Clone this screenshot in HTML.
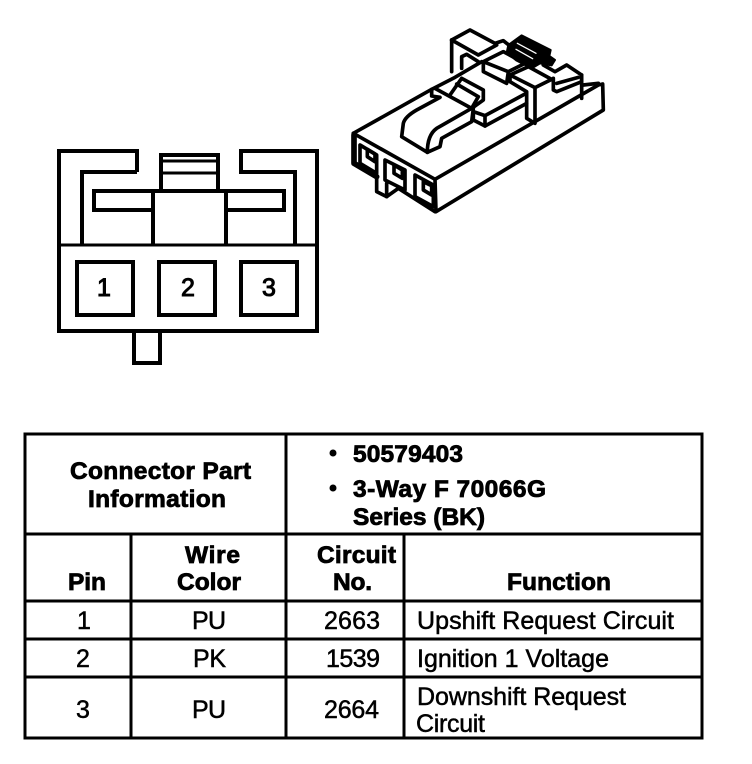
<!DOCTYPE html>
<html>
<head>
<meta charset="utf-8">
<style>
html,body{margin:0;padding:0;background:#fff;width:752px;height:764px;overflow:hidden}
svg{display:block}
text{font-family:"Liberation Sans",Arial,sans-serif;font-size:25px;fill:#000;stroke:#000;stroke-width:.5px}
.b{font-weight:bold;font-size:24.5px;stroke-width:.8px}
.n{stroke-width:1px}
</style>
</head>
<body>
<svg width="752" height="764" viewBox="0 0 752 764" xmlns="http://www.w3.org/2000/svg">
<rect width="752" height="764" fill="#fff"/>

<!-- Isometric connector -->
<g transform="translate(340,20) scale(.33333)" fill="none" stroke="#000" stroke-width="11" stroke-linejoin="round" stroke-linecap="round">
  <path d="M40 340L285 478L775 195L788 192L790 270L288 575L285 478"/>
  <path stroke-width="17" d="M42 345V430L110 470"/>
  <path d="M40 340L275 208"/>
  <path d="M110 470V515L140 530L175 505L285 575"/>
  <path d="M140 490V530"/>
  <path d="M60 375V430L110 460V405Z"/>
  <path d="M82 388V410L105 425V402Z"/>
  <path d="M135 420V480L195 510V450Z"/>
  <path d="M162 435V460L187 475V450Z"/>
  <path d="M225 465V530L280 560V495Z"/>
  <path d="M250 485V510L275 525V497Z"/>
  <!-- latch -->
  <path d="M395 265L290 325Q262 345 262 397L185 350L190 310Q195 290 230 270L300 232L275 228V208L345 172L425 125"/>
  <path d="M262 397L300 380L305 355L395 305L400 265"/>
  <path d="M285 205L395 265L430 240V210L365 175L330 225"/>
  <path d="M350 192L415 230L395 265"/>
  <!-- step -->
  <path d="M400 275V300L435 318L560 250"/>
  <path d="M400 275L435 287L555 222"/>
  <path d="M435 287V318"/>
  <!-- rear block -->
  <path d="M335 60L390 30L465 70L490 62L515 82"/>
  <path d="M335 60V155"/>
  <path d="M335 60L415 105L470 75"/>
  <path d="M365 145V110L380 103L415 125"/>
  <path d="M430 125V155L500 190L505 155L430 125L490 95L555 130L505 155"/>
  <!-- second block -->
  <path d="M510 165V185L560 215V295L585 310V203L510 165L565 140L635 178L585 203"/>
  <!-- dark clip -->
  <path fill="#000" stroke-width="6" d="M505 75L545 46L632 90L628 108L645 120L635 136L600 130L575 145L530 122L500 98Z"/>
  <path stroke="#fff" stroke-width="4" d="M532 70L588 100M528 88L578 116"/>
  <path d="M610 135L645 155L680 135L725 165V185L650 215L640 210V175"/>
  <path d="M725 165V235M730 195L775 190"/>
  <path d="M650 190L715 172"/>
</g>

<!-- Front view connector -->
<g fill="none" stroke="#000" stroke-width="4" stroke-linejoin="miter">
  <path d="M137 172V151H59V331H317V151H241V172H295V245"/>
  <path d="M137 172H82V245"/>
  <path d="M58 245H318" stroke-width="3"/>
  <path d="M161 190V155H218V190"/>
  <path d="M161 161H218M161 173H218" stroke-width="3"/>
  <path d="M153 191H94V210H153M225 191H284V210H225"/>
  <path d="M153 191H225M153 191V245M226 191V245"/>
  <rect x="77" y="262" width="56" height="53"/>
  <rect x="159" y="262" width="56" height="53"/>
  <rect x="241" y="262" width="56" height="53"/>
  <path d="M134 331V363H160V331"/>
</g>
<text class="n" x="104" y="296" text-anchor="middle">1</text>
<text class="n" x="188" y="296" text-anchor="middle">2</text>
<text class="n" x="269" y="296" text-anchor="middle">3</text>

<!-- Table -->
<g fill="none" stroke="#000" stroke-width="3">
  <rect x="25" y="434" width="677" height="304"/>
  <path d="M25 534H702M25 601H702M25 639H702M25 677H702"/>
  <path d="M286 434V738M131 534V738M404 534V738"/>
</g>

<text class="b" x="70" y="479" textLength="181">Connector Part</text>
<text class="b" x="88" y="507" textLength="138">Information</text>
<circle cx="333" cy="453" r="3.5"/>
<circle cx="333" cy="488" r="3.5"/>
<text class="b" x="353" y="462" textLength="110">50579403</text>
<text class="b" x="353" y="497" textLength="193">3-Way F 70066G</text>
<text class="b" x="353" y="525" textLength="132">Series (BK)</text>

<text class="b" x="68" y="590" textLength="38">Pin</text>
<text class="b" x="185" y="563" textLength="55">Wire</text>
<text class="b" x="177" y="590" textLength="64">Color</text>
<text class="b" x="317" y="563" textLength="79">Circuit</text>
<text class="b" x="333" y="590" textLength="39">No.</text>
<text class="b" x="507" y="590" textLength="104">Function</text>

<text x="77" y="629">1</text>
<text x="192" y="629" textLength="34">PU</text>
<text x="324" y="629" textLength="56">2663</text>
<text x="417" y="629" textLength="257">Upshift Request Circuit</text>

<text x="76" y="667">2</text>
<text x="193" y="667" textLength="33">PK</text>
<text x="326" y="667" textLength="54">1539</text>
<text x="417" y="667" textLength="192">Ignition 1 Voltage</text>

<text x="76" y="718">3</text>
<text x="192" y="718" textLength="34">PU</text>
<text x="324" y="718" textLength="55">2664</text>
<text x="417" y="705" textLength="209">Downshift Request</text>
<text x="416" y="732" textLength="69">Circuit</text>
</svg>
</body>
</html>
